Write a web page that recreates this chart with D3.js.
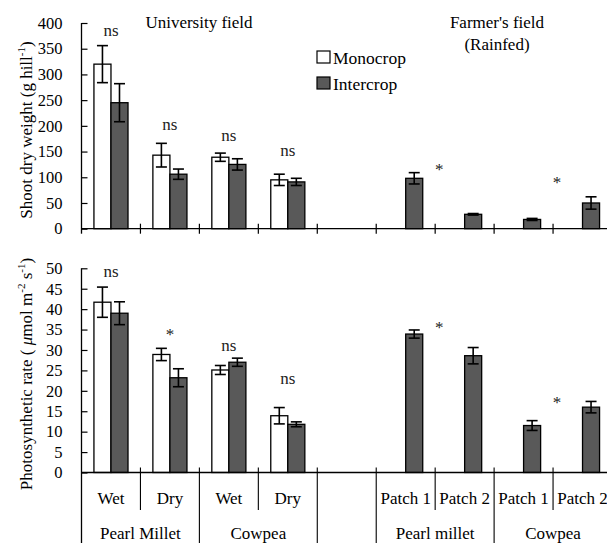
<!DOCTYPE html>
<html>
<head>
<meta charset="utf-8">
<script src="https://cdn.jsdelivr.net/npm/d3@7"></script>
<style>
  html, body { margin: 0; padding: 0; background: #fff; }
  svg { display: block; font-family: "Liberation Serif", "Times New Roman", serif; }
</style>
</head>
<body>
<svg id="chart" width="607" height="543"></svg>
<script>
// Categories along the shared x axis (university field, a spacer, farmer's field)
const categories = ["uWetPM", "uDryPM", "uWetCP", "uDryCP", "gap", "fP1PM", "fP2PM", "fP1CP", "fP2CP"];
const waterLabels = ["Wet", "Dry", "Wet", "Dry", "", "Patch 1", "Patch 2", "Patch 1", "Patch 2"];
const cropLabels = ["Pearl Millet", "Cowpea", "", "Pearl millet", "Cowpea"];
const cropSpans = [2, 2, 1, 2, 2];
const series = ["Monocrop", "Intercrop"];

// Shoot dry weight (g hill-1)
const shootMono = [320, 143, 139, 95, null, null, null, null, null];
const shootMonoErr = [36, 23, 8, 11, null, null, null, null, null];
const shootInter = [245, 106, 125, 91, null, 98, 28, 18, 50];
const shootInterErr = [37, 10, 11, 7, null, 11, 1.5, 2, 12];
const shootSig = ["ns", "ns", "ns", "ns", null, "*", null, "*", null];
const shootSigAt = [375, 192, 170, 141, null, 120, null, 94, null];
const shootTicks = [0, 50, 100, 150, 200, 250, 300, 350, 400];

// Photosynthetic rate (umol m-2 s-1)
const photoMono = [41.7, 28.9, 25.1, 13.9, null, null, null, null, null];
const photoMonoErr = [3.7, 1.5, 1.1, 2.0, null, null, null, null, null];
const photoInter = [39.0, 23.2, 27.0, 11.8, null, 33.9, 28.6, 11.5, 16.0];
const photoInterErr = [2.8, 2.2, 1.0, 0.6, null, 1.0, 2.0, 1.2, 1.4];
const photoSig = ["ns", "*", "ns", "ns", null, "*", null, "*", null];
const photoSigAt = [47.9, 34.4, 29.8, 21.7, null, 36.1, null, 17.8, null];
const photoTicks = [0, 5, 10, 15, 20, 25, 30, 35, 40, 45, 50];

const svg = d3.select("#chart");
const FONT = 17;
const barFill = { Monocrop: "#ffffff", Intercrop: "#595959" };

const x = d3.scaleBand().domain(categories).range([81.5, 612]).paddingInner(0).paddingOuter(0);
const bw = x.bandwidth();
const xs = d3.scaleBand().domain(series).range([0, bw]).paddingInner(0).paddingOuter(0.73);

function panel(opts) {
  const y = d3.scaleLinear().domain(opts.domain).range(opts.range);
  const g = svg.append("g");
  const y0 = y(0);

  // bars
  const rows = [];
  categories.forEach((c, i) => {
    if (opts.mono[i] != null) rows.push({ c, s: "Monocrop", v: opts.mono[i], e: opts.monoErr[i] });
    if (opts.inter[i] != null) rows.push({ c, s: "Intercrop", v: opts.inter[i], e: opts.interErr[i] });
  });
  g.selectAll("rect.bar").data(rows).join("rect")
    .attr("class", "bar")
    .attr("x", d => x(d.c) + xs(d.s))
    .attr("width", xs.bandwidth())
    .attr("y", d => y(d.v))
    .attr("height", d => y0 - y(d.v))
    .attr("fill", d => barFill[d.s])
    .attr("stroke", "#000")
    .attr("stroke-width", 1.3);

  // error bars
  const eb = g.selectAll("g.err").data(rows).join("g").attr("class", "err")
    .attr("transform", d => `translate(${x(d.c) + xs(d.s) + xs.bandwidth() / 2},0)`);
  eb.append("line").attr("y1", d => y(d.v + d.e)).attr("y2", d => y(d.v - d.e))
    .attr("stroke", "#000").attr("stroke-width", 1.6);
  eb.append("line").attr("x1", -5.5).attr("x2", 5.5).attr("y1", d => y(d.v + d.e)).attr("y2", d => y(d.v + d.e))
    .attr("stroke", "#000").attr("stroke-width", 1.6);
  eb.append("line").attr("x1", -5.5).attr("x2", 5.5).attr("y1", d => y(d.v - d.e)).attr("y2", d => y(d.v - d.e))
    .attr("stroke", "#000").attr("stroke-width", 1.6);

  // significance marks
  const sig = categories.map((c, i) => ({ c, t: opts.sig[i], v: opts.sigAt[i] })).filter(d => d.t);
  g.selectAll("text.sig").data(sig).join("text")
    .attr("class", "sig")
    .attr("x", d => d.t === "*" && d.c.startsWith("f") ? x(d.c) + bw + 4 : x(d.c) + bw / 2)
    .attr("y", d => y(d.v) + (d.t === "*" ? 8 : 0))
    .attr("text-anchor", "middle")
    .attr("font-size", FONT)
    .attr("fill", "#222")
    .text(d => d.t);

  // y axis with inward ticks
  const ya = g.append("g").attr("transform", "translate(81.5,0)")
    .call(d3.axisLeft(y).tickValues(opts.ticks).tickFormat(d3.format("d")).tickSizeInner(-6).tickSizeOuter(0).tickPadding(19));
  ya.select(".domain").remove();
  ya.selectAll(".tick line").attr("stroke", "#000").attr("stroke-width", 1.2);
  ya.selectAll(".tick text").attr("font-size", FONT - 0.5).attr("font-family", "Liberation Serif, serif").attr("fill", "#000");
  g.append("line").attr("x1", 81.5).attr("x2", 81.5).attr("y1", y(opts.domain[1])).attr("y2", y0 + opts.below)
    .attr("stroke", "#000").attr("stroke-width", 1.3);

  // x axis line
  g.append("line").attr("x1", 81.5).attr("x2", 612).attr("y1", y0).attr("y2", y0)
    .attr("stroke", "#000").attr("stroke-width", 1.3);

  return { y, g, y0 };
}

// Top panel: shoot dry weight
const shootPanel = panel({
  domain: [0, 400], range: [228.7, 23], ticks: shootTicks,
  mono: shootMono, monoErr: shootMonoErr, inter: shootInter, interErr: shootInterErr,
  sig: shootSig, sigAt: shootSigAt, below: 5
});
// crossing ticks at category boundaries
shootPanel.g.selectAll("line.bnd").data(categories.slice(1)).join("line")
  .attr("class", "bnd")
  .attr("x1", d => x(d)).attr("x2", d => x(d))
  .attr("y1", shootPanel.y0 - 5).attr("y2", shootPanel.y0 + 5)
  .attr("stroke", "#000").attr("stroke-width", 1.2);

// Bottom panel: photosynthetic rate
const photoPanel = panel({
  domain: [0, 50], range: [472.5, 268.3], ticks: photoTicks,
  mono: photoMono, monoErr: photoMonoErr, inter: photoInter, interErr: photoInterErr,
  sig: photoSig, sigAt: photoSigAt, below: 80
});

// category label table under the bottom panel
const cropStarts = cropSpans.map((s, i) => d3.sum(cropSpans.slice(0, i)));
const majorIdx = new Set(cropStarts);
photoPanel.g.selectAll("line.sep").data(categories.slice(1)).join("line")
  .attr("class", "sep")
  .attr("x1", d => x(d)).attr("x2", d => x(d))
  .attr("y1", photoPanel.y0 - 5)
  .attr("y2", (d, i) => majorIdx.has(i + 1) ? 545 : 510)
  .attr("stroke", "#000").attr("stroke-width", 1.1);

photoPanel.g.selectAll("text.water").data(categories).join("text")
  .attr("class", "water")
  .attr("x", d => x(d) + bw / 2)
  .attr("y", 504)
  .attr("text-anchor", "middle")
  .attr("font-size", FONT)
  .text((d, i) => waterLabels[i]);

photoPanel.g.selectAll("text.crop").data(cropLabels).join("text")
  .attr("class", "crop")
  .attr("x", (d, i) => x(categories[cropStarts[i]]) + bw * cropSpans[i] / 2)
  .attr("y", 538.5)
  .attr("text-anchor", "middle")
  .attr("font-size", FONT)
  .text(d => d);

// field headings
svg.append("text").attr("x", 199).attr("y", 28).attr("text-anchor", "middle").attr("font-size", FONT).text("University field");
svg.append("text").attr("x", 497).attr("y", 28).attr("text-anchor", "middle").attr("font-size", FONT).text("Farmer's field");
svg.append("text").attr("x", 497).attr("y", 50).attr("text-anchor", "middle").attr("font-size", FONT).text("(Rainfed)");

// legend
const lg = svg.append("g").attr("transform", "translate(317,51)");
series.forEach((s, i) => {
  lg.append("rect").attr("x", 0).attr("y", i * 26).attr("width", 13).attr("height", 12)
    .attr("fill", barFill[s]).attr("stroke", "#000").attr("stroke-width", 1.2);
  lg.append("text").attr("x", 16).attr("y", i * 26 + 12.5).attr("font-size", FONT + 0.5).text(s);
});

// y axis titles
const t1 = svg.append("text").attr("transform", "translate(32,130) rotate(-90)")
  .attr("text-anchor", "middle").attr("font-size", FONT);
t1.append("tspan").text("Shoot dry weight (g  hill");
t1.append("tspan").attr("dy", -7).attr("font-size", 11).text("-1");
t1.append("tspan").attr("dy", 7).text(")");

const t2 = svg.append("text").attr("transform", "translate(32,374) rotate(-90)")
  .attr("text-anchor", "middle").attr("font-size", FONT);
t2.append("tspan").text("Photosynthetic rate ( ");
t2.append("tspan").attr("font-style", "italic").text("μ");
t2.append("tspan").text("mol m");
t2.append("tspan").attr("dy", -7).attr("font-size", 11).text("-2");
t2.append("tspan").attr("dy", 7).text(" s");
t2.append("tspan").attr("dy", -7).attr("font-size", 11).text("-1");
t2.append("tspan").attr("dy", 7).text(")");
</script>
</body>
</html>
